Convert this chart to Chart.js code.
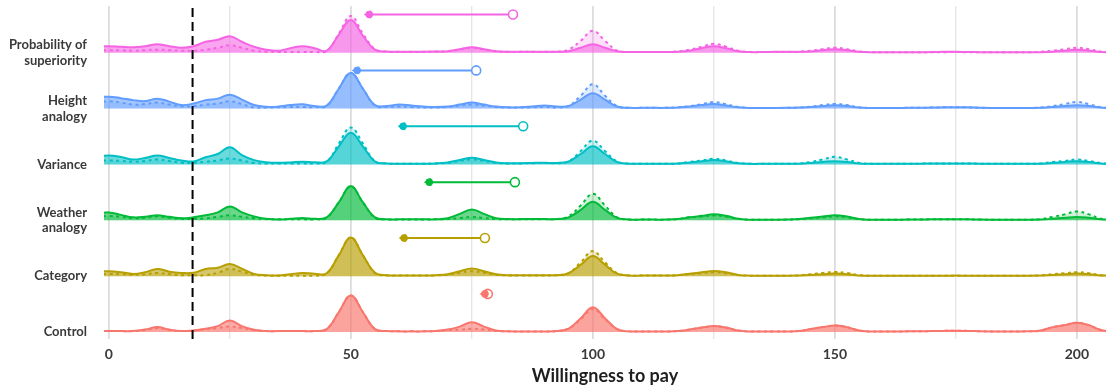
<!DOCTYPE html>
<html>
<head>
<meta charset="utf-8">
<script src="https://cdn.jsdelivr.net/npm/chart.js@4.4.0/dist/chart.umd.min.js"></script>
<style>
  body { margin: 0; background: #fff; }
  #wrap { width: 1112px; height: 388px; }
</style>
</head>
<body>
<div id="wrap"><canvas id="ridges" width="1112" height="388"></canvas></div>
<script>
// ridge rows, top to bottom
var groupLabels = [['Probability of', 'superiority'], ['Height', 'analogy'], 'Variance', ['Weather', 'analogy'], 'Category', 'Control'];
var groupColors = ['#F564E3', '#619CFF', '#00BFC4', '#00BA38', '#B79F00', '#F8766D'];

// density sampled every 2.5 on willingness to pay, from -2.5 to 207.5
var wtp = [];
for (var i = 0; i <= 84; i++) wtp.push(-2.5 + 2.5 * i);

var probSolid = [
  6, 6.5, 6, 5.5, 6.5, 8.5, 6.5, 5, 6.5, 11,
  13, 16.5, 11, 6, 3, 2, 4.5, 6.5, 4.5, 2,
  18, 33, 17, 3, 1.2, 1, 1, 1, 1.2, 1.5,
  3.5, 5.5, 3.5, 1.5, 1, 1, 1, 1, 1, 1.5,
  5, 8.5, 5, 1.5, 0.7, 0.7, 0.7, 0.7, 1, 2,
  4.5, 6.5, 4.5, 1.5, 0.6, 0.6, 0.8, 1, 0.8, 1.2,
  2.5, 3.5, 2.5, 1, 0.5, 0.5, 0.5, 0.5, 0.5, 0.6,
  0.8, 0.8, 0.7, 0.5, 0.5, 0.5, 0.5, 0.5, 0.5, 1,
  2, 3, 2, 0.7, 0.5
];
var probDashed = [
  2.5, 2.5, 2.5, 2, 2.5, 3, 2.5, 2, 2, 3,
  5, 7.5, 5, 2, 1, 0.7, 0.7, 0.7, 0.8, 1.5,
  19, 37, 19, 3.5, 1, 0.8, 0.8, 0.8, 1, 1.5,
  3, 5, 3, 1.2, 0.8, 0.8, 0.8, 0.8, 1, 3,
  12, 22, 12, 2, 0.7, 0.7, 0.7, 0.7, 1.2, 3,
  6, 9, 6, 2, 0.6, 0.6, 0.6, 0.6, 1, 2,
  3.5, 5, 3.5, 1.2, 0.5, 0.5, 0.5, 0.5, 0.5, 0.5,
  0.5, 0.6, 0.5, 0.5, 0.5, 0.5, 0.5, 0.5, 0.8, 2,
  3.5, 5, 3.5, 1, 0.5
];
var heightSolid = [
  11, 12, 10.5, 8.5, 7.5, 10, 7, 3.5, 5, 8.5,
  10, 14, 9, 3.5, 1.7, 2, 3.5, 4.3, 2.5, 3,
  20, 36, 20, 3.5, 2.5, 4, 3, 2, 1.5, 2,
  4, 6, 4, 2, 1.2, 1.2, 2, 3, 2, 2.5,
  9, 15.5, 9, 2, 0.7, 0.7, 0.7, 0.7, 1, 2,
  3.5, 4.5, 3, 1.2, 0.6, 0.6, 0.6, 0.7, 1, 1.5,
  2.5, 3.3, 2.5, 1, 0.6, 0.6, 0.6, 0.7, 0.8, 1,
  1.2, 1.3, 1.2, 0.8, 0.6, 0.6, 0.6, 0.6, 0.8, 1.5,
  2.5, 3.3, 2.5, 1, 0.6
];
var heightDashed = [
  6, 7.3, 6, 4, 4.5, 6, 4, 2.3, 2.5, 4,
  5, 7.3, 4.5, 1, 1, 1.3, 1.5, 1.5, 1.5, 2.5,
  20, 36, 20, 3, 1.5, 2, 1.5, 1, 1, 1.5,
  3, 4, 3, 1.5, 1, 1, 1.2, 1.5, 1.2, 2.5,
  13, 24.5, 13, 2.5, 0.7, 0.7, 0.7, 0.7, 1.2, 2.5,
  4.5, 6.5, 4.5, 1.5, 0.6, 0.6, 0.6, 0.7, 1, 2,
  3.5, 4.7, 3.5, 1.2, 0.6, 0.6, 0.6, 0.7, 0.8, 1,
  1.2, 1.3, 1.2, 0.8, 0.6, 0.6, 0.6, 0.6, 1, 2.5,
  4.5, 6.7, 4.5, 1.2, 0.6
];
var varianceSolid = [
  8, 9, 7.5, 5, 6.5, 9, 6.5, 4, 3, 7.3,
  10.5, 17.3, 9.5, 4.3, 2.3, 1.7, 2, 2.7, 2.2, 3,
  18, 32, 18, 3, 1, 0.7, 0.7, 0.7, 1, 2,
  4.5, 6.7, 4.5, 2, 1.2, 1.2, 1.5, 1.7, 1.5, 3,
  10.5, 18.3, 10.5, 2.5, 0.8, 0.7, 0.7, 0.7, 1, 2,
  3.2, 4.5, 3.2, 1.2, 0.6, 0.6, 0.6, 0.6, 0.8, 1.5,
  2.5, 3.3, 2.5, 1, 0.6, 0.6, 0.6, 0.7, 0.8, 1,
  1, 1, 1, 0.7, 0.6, 0.6, 0.6, 0.6, 0.8, 1.5,
  2.5, 3.3, 2.5, 1, 0.6
];
var varianceDashed = [
  3.5, 4, 3.5, 2.7, 3.5, 5, 3.5, 1.7, 1.7, 2.7,
  4, 6, 4, 1.5, 1, 1, 1, 1, 1, 2.5,
  21, 37.3, 21, 3, 1, 0.7, 0.7, 0.7, 1, 1.5,
  3.5, 5, 3.5, 1.5, 1, 1, 1.2, 1.5, 1.2, 3,
  13.5, 24, 13.5, 3, 0.8, 0.7, 0.7, 0.7, 1, 2.5,
  4, 5.8, 4, 1.5, 0.6, 0.6, 0.6, 0.6, 1, 2.5,
  5, 7.7, 5, 1.5, 0.6, 0.6, 0.6, 0.7, 0.8, 1,
  1, 1, 1, 0.7, 0.6, 0.6, 0.6, 0.6, 1, 2.5,
  3.5, 5, 3.5, 1.2, 0.6
];
var weatherSolid = [
  6.5, 8, 5.5, 3, 3.5, 5, 3.5, 2, 3, 5,
  8, 14, 8, 4, 1.5, 0.7, 1.5, 2.3, 1.5, 3,
  18, 34.5, 18, 3, 1, 1, 1, 1, 1, 2,
  6.5, 11, 6.5, 2, 1.2, 1.2, 1.2, 1.3, 1.2, 3,
  10.5, 18.7, 10.5, 2.5, 0.8, 0.7, 0.7, 0.7, 1.2, 3,
  4.5, 6, 4.5, 1.5, 0.6, 0.6, 0.6, 0.7, 1.2, 2.5,
  3.8, 5, 3.8, 1.3, 0.6, 0.6, 0.6, 0.7, 0.8, 1,
  1, 1, 1, 0.7, 0.6, 0.6, 0.6, 0.6, 0.8, 1.5,
  2.5, 3.3, 2.5, 1, 0.6
];
var weatherDashed = [
  3.5, 4.3, 3.5, 2, 2.5, 4, 2.5, 1.5, 1.5, 2,
  3.5, 5, 3.5, 2, 1.2, 1, 1, 1, 1, 2.5,
  18, 34, 18, 2.5, 1, 0.8, 0.8, 0.8, 1, 1.2,
  2.2, 3.3, 2.2, 1.2, 1, 1, 1, 1.2, 1.2, 4,
  15, 26.7, 15, 3, 0.8, 0.7, 0.7, 0.7, 1.2, 3,
  3.8, 5, 3.8, 1.5, 0.6, 0.6, 0.6, 0.7, 1, 2,
  3, 4, 3, 1.2, 0.6, 0.6, 0.6, 0.7, 0.8, 1,
  1, 1, 1, 0.7, 0.6, 0.6, 0.6, 0.6, 1.2, 3.5,
  6, 9, 6, 1.5, 0.6
];
var categorySolid = [
  4.5, 5, 4, 2.3, 4, 7.3, 4.5, 3.3, 3.5, 7.3,
  8.5, 12.3, 7.5, 2.3, 1, 0.7, 2, 3.3, 2.5, 3,
  21, 39, 21, 3.5, 1, 0.7, 0.7, 0.7, 1, 2,
  5, 7.7, 5, 2, 1, 1, 1, 1, 1, 3,
  11.5, 20.3, 11.5, 2.5, 0.7, 0.6, 0.6, 0.6, 1, 2.5,
  4, 5.3, 4, 1.3, 0.5, 0.5, 0.5, 0.5, 0.7, 1.2,
  2, 2.7, 2, 0.8, 0.5, 0.5, 0.5, 0.5, 0.5, 0.5,
  0.5, 0.6, 0.5, 0.5, 0.5, 0.5, 0.5, 0.5, 0.7, 1.2,
  2, 2.7, 2, 0.8, 0.5
];
var categoryDashed = [
  2, 2.3, 2, 1.5, 2, 3.3, 2, 1, 1, 1,
  3.5, 7.3, 4.5, 1.5, 0.7, 0.5, 0.5, 0.5, 0.5, 2.5,
  21, 39, 21, 3, 0.8, 0.6, 0.6, 0.6, 0.8, 1.5,
  3.5, 5, 3.5, 1.5, 0.8, 0.8, 0.8, 0.8, 1, 3,
  14, 25.3, 14, 3, 0.7, 0.6, 0.6, 0.6, 1, 2,
  3, 4, 3, 1.2, 0.5, 0.5, 0.5, 0.5, 0.8, 2,
  3.2, 4.3, 3.2, 1.2, 0.5, 0.5, 0.5, 0.5, 0.5, 0.5,
  0.5, 0.5, 0.5, 0.5, 0.5, 0.5, 0.5, 0.5, 0.8, 2,
  3, 4, 3, 1, 0.5
];
var controlSolid = [
  1, 1, 1, 1, 2.5, 5, 2.5, 1, 1.5, 3.3,
  6, 11.7, 6, 2.3, 1, 1, 1, 1, 1, 3,
  20, 37, 20, 3, 1, 0.7, 0.7, 0.7, 1, 2.5,
  5.5, 10, 5.5, 1.5, 0.7, 0.6, 0.6, 0.6, 1, 3.5,
  14, 25, 14, 3, 0.7, 0.6, 0.6, 0.6, 1, 2.5,
  4.5, 6, 4.5, 1.5, 0.6, 0.6, 0.6, 0.6, 1, 3,
  5, 6.7, 5, 1.5, 0.6, 0.6, 0.6, 0.7, 0.8, 1,
  1.2, 1.3, 1.2, 0.8, 0.6, 0.6, 0.6, 0.8, 1.5, 5,
  7, 9.3, 7, 2, 0.7
];
var controlDashed = [
  1, 1, 1, 1, 2, 4, 2, 1, 1.5, 3,
  4, 5.7, 4, 2, 1, 1, 1, 1, 1, 3,
  20, 37, 20, 3, 1, 0.7, 0.7, 0.7, 1, 2,
  2.5, 3.3, 2.5, 1.2, 0.7, 0.6, 0.6, 0.6, 1, 3.5,
  13, 23.3, 13, 3, 0.7, 0.6, 0.6, 0.6, 1, 2.5,
  4.5, 6, 4.5, 1.5, 0.6, 0.6, 0.6, 0.6, 1, 3,
  5, 6.7, 5, 1.5, 0.6, 0.6, 0.6, 0.7, 0.8, 1,
  1.2, 1.3, 1.2, 0.8, 0.6, 0.6, 0.6, 0.8, 1.5, 5,
  7, 9.3, 7, 2, 0.7
];

var solidRows = [probSolid, heightSolid, varianceSolid, weatherSolid, categorySolid, controlSolid];
var dashedRows = [probDashed, heightDashed, varianceDashed, weatherDashed, categoryDashed, controlDashed];

// mean shift per row: open circle -> filled dot
var arrowFrom = [83.5, 75.9, 85.6, 83.9, 77.7, 78.3];
var arrowTo = [53.8, 51.3, 60.8, 66.2, 61.0, 77.7];

var refLine = 17.3;
var xTicks = [0, 25, 50, 75, 100, 125, 150, 175, 200];

var yMax = 336;
var rowGap = 56.4;
function baseOf(r) { return 7 + (5 - r) * rowGap; }

function alpha(hex, a) {
  var n = parseInt(hex.slice(1), 16);
  return 'rgba(' + (n >> 16) + ',' + ((n >> 8) & 255) + ',' + (n & 255) + ',' + a + ')';
}

var datasets = [];
for (var r = 0; r < 6; r++) {
  var b = baseOf(r);
  var col = groupColors[r];
  datasets.push({
    data: wtp.map(function(x, k) { return {x: x, y: b + dashedRows[r][k]}; }),
    borderColor: col, borderWidth: 2, borderDash: [3, 3.5],
    backgroundColor: alpha(col, 0.2), fill: {value: b},
    pointRadius: 0, tension: 0.4
  });
  datasets.push({
    data: wtp.map(function(x, k) { return {x: x, y: b + solidRows[r][k]}; }),
    borderColor: col, borderWidth: 2,
    backgroundColor: alpha(col, 0.58), fill: {value: b},
    pointRadius: 0, tension: 0.4
  });
}
for (var r = 0; r < 6; r++) {
  var ay = baseOf(r) + 38.5;
  datasets.push({
    arrow: true,
    data: [{x: arrowFrom[r], y: ay}, {x: arrowTo[r], y: ay}],
    borderColor: groupColors[r], borderWidth: 2,
    pointRadius: [4.5, 3.4], pointBorderWidth: [1.6, 1],
    pointBackgroundColor: ['#fff', groupColors[r]], pointBorderColor: groupColors[r],
    fill: false
  });
}
datasets.push({
  data: [{x: refLine, y: 0}, {x: refLine, y: yMax}],
  borderColor: '#000', borderWidth: 2, borderDash: [9, 5],
  pointRadius: 0, fill: false
});
// first in the list is painted first
datasets.forEach(function(d, i) { d.order = datasets.length - i; });

var arrowHeads = {
  id: 'arrowHeads',
  afterDatasetsDraw: function(chart) {
    var ctx = chart.ctx;
    chart.data.datasets.forEach(function(ds, i) {
      if (!ds.arrow) return;
      var pts = chart.getDatasetMeta(i).data;
      var a = pts[0], e = pts[1];
      var dir = e.x < a.x ? -1 : 1;
      ctx.save();
      ctx.fillStyle = ds.borderColor;
      ctx.beginPath();
      ctx.moveTo(e.x + dir * 5.5, e.y);
      ctx.lineTo(e.x - dir * 2, e.y - 4.2);
      ctx.lineTo(e.x - dir * 2, e.y + 4.2);
      ctx.closePath();
      ctx.fill();
      ctx.restore();
    });
  }
};

var labelFont = {family: 'Lato', weight: 'bold', size: 13};

new Chart(document.getElementById('ridges'), {
  type: 'line',
  data: {datasets: datasets},
  plugins: [arrowHeads],
  options: {
    responsive: false,
    animation: false,
    layout: {padding: {top: 3, right: 4, left: 0, bottom: 0}},
    plugins: {legend: {display: false}, tooltip: {enabled: false}},
    scales: {
      x: {
        type: 'linear', min: -1, max: 206,
        afterBuildTicks: function(s) { s.ticks = xTicks.map(function(v) { return {value: v}; }); },
        afterFit: function(s) { s.height = 49; s.paddingLeft = 0; s.paddingRight = 0; },
        ticks: {
          color: '#3a3a3a', font: {family: 'Lato', weight: 'bold', size: 14}, padding: 7, maxRotation: 0,
          callback: function(v) { return v % 50 === 0 ? v : ''; }
        },
        grid: {
          drawTicks: false,
          color: function(c) { return c.tick && c.tick.value % 50 === 0 ? '#dcdcdc' : '#e6e6e6'; },
          lineWidth: function(c) { return c.tick && c.tick.value % 50 === 0 ? 1.8 : 1.4; }
        },
        border: {display: false},
        title: {
          display: true, text: 'Willingness to pay', color: '#1e1e1e',
          font: {family: 'Lato', weight: 'bold', size: 18}, padding: {top: 0, bottom: 1}
        }
      },
      y: {
        min: 0, max: yMax,
        afterBuildTicks: function(s) {
          var t = [];
          for (var r = 5; r >= 0; r--) t.push({value: baseOf(r)});
          s.ticks = t;
        },
        afterFit: function(s) { s.width = 104; s.paddingTop = 0; s.paddingBottom = 0; },
        ticks: {
          color: '#3a3a3a', font: labelFont, padding: 9,
          callback: function(v, idx) { return groupLabels[5 - idx]; }
        },
        grid: {display: false},
        border: {display: false}
      }
    }
  }
});
</script>
</body>
</html>
